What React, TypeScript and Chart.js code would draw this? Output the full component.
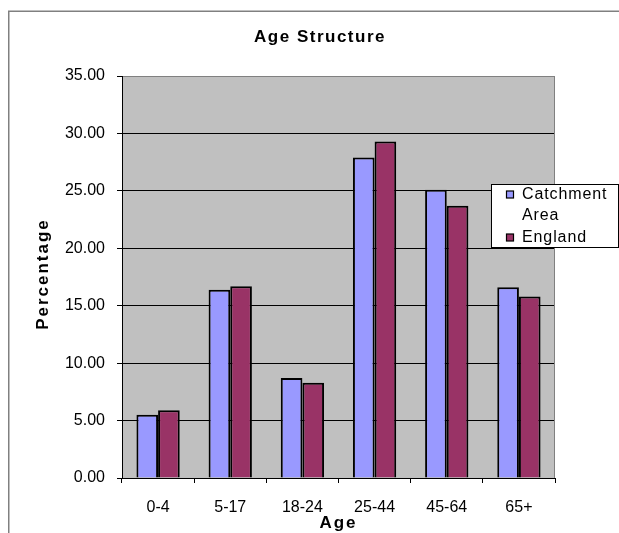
import React, { useEffect, useRef } from "react";
import { Chart, registerables } from "chart.js";

Chart.register(...registerables);

const categories = ["0-4", "5-17", "18-24", "25-44", "45-64", "65+"];
const catchmentValues = [5.5, 16.4, 8.7, 27.9, 25.1, 16.6];
const englandValues = [5.9, 16.7, 8.3, 29.3, 23.7, 15.8];
const seriesNames = ["Catchment Area", "England"];
const seriesColors = ["#9999FF", "#993366"];
const yMin = 0;
const yMax = 35;
const yStep = 5;
const chartTitle = "Age Structure";
const xTitle = "Age";
const yTitle = "Percentage";

const FONT = '"Liberation Sans", Arial, sans-serif';

function wrapWords(ctx: CanvasRenderingContext2D, text: string, maxW: number): string[] {
  const words = text.split(" ");
  const lines: string[] = [];
  let cur = "";
  for (const w of words) {
    const test = cur ? cur + " " + w : w;
    if (cur && ctx.measureText(test).width > maxW) {
      lines.push(cur);
      cur = w;
    } else {
      cur = test;
    }
  }
  if (cur) lines.push(cur);
  return lines;
}

const decor = {
  id: "decor",
  beforeDraw(chart: any) {
    const { ctx, chartArea: a } = chart;
    ctx.save();
    ctx.fillStyle = "#ffffff";
    ctx.fillRect(0, 0, chart.width, chart.height);
    ctx.fillStyle = "#C0C0C0";
    ctx.fillRect(a.left, a.top, a.right - a.left, a.bottom - a.top);
    ctx.strokeStyle = "#808080";
    ctx.lineWidth = 1.5;
    ctx.beginPath();
    ctx.moveTo(8.75, chart.height);
    ctx.lineTo(8.75, 11.25);
    ctx.lineTo(chart.width, 11.25);
    ctx.stroke();
    ctx.restore();
  },
  afterDraw(chart: any) {
    const { ctx, chartArea: a } = chart;
    ctx.save();
    // plot right border
    ctx.strokeStyle = "#808080";
    ctx.lineWidth = 1;
    ctx.beginPath();
    ctx.moveTo(a.right - 0.5, a.top);
    ctx.lineTo(a.right - 0.5, a.bottom);
    ctx.stroke();

    // titles
    ctx.fillStyle = "#000";
    ctx.textAlign = "center";
    ctx.textBaseline = "middle";
    ctx.font = `bold 17px ${FONT}`;
    (ctx as any).letterSpacing = "1.5px";
    ctx.fillText(chartTitle, 320, 37);

    (ctx as any).letterSpacing = "2px";
    ctx.fillText(xTitle, (a.left + a.right) / 2, 523);

    (ctx as any).letterSpacing = "2px";
    ctx.save();
    ctx.translate(43, 274);
    ctx.rotate(-Math.PI / 2);
    ctx.fillText(yTitle, 0, 0);
    ctx.restore();

    // legend
    const lx = 491.5, ly = 184.5, lw = 127, lh = 63;
    ctx.fillStyle = "#ffffff";
    ctx.fillRect(lx, ly, lw, lh);
    ctx.strokeStyle = "#000";
    ctx.lineWidth = 1;
    ctx.strokeRect(lx, ly, lw, lh);
    ctx.font = `16px ${FONT}`;
    (ctx as any).letterSpacing = "0.9px";
    ctx.textAlign = "left";
    ctx.textBaseline = "middle";
    let y = 194.5;
    chart.data.datasets.forEach((ds: any) => {
      ctx.fillStyle = ds.backgroundColor;
      ctx.fillRect(506.5, y - 3.5, 7, 7);
      ctx.strokeStyle = "#000";
      ctx.lineWidth = 1.2;
      ctx.strokeRect(506.5, y - 3.5, 7, 7);
      ctx.fillStyle = "#000";
      const lines = wrapWords(ctx, ds.label, 92);
      lines.forEach((ln, i) => {
        ctx.fillText(ln, 522, y + i * 21.5);
      });
      y += lines.length * 21.5;
    });
    ctx.restore();
  },
};

export default function App() {
  const ref = useRef<HTMLCanvasElement | null>(null);
  useEffect(() => {
    if (!ref.current) return;
    const chart = new Chart(ref.current, {
      type: "bar",
      data: {
        labels: categories,
        datasets: [
          {
            label: seriesNames[0],
            data: catchmentValues,
            backgroundColor: seriesColors[0],
            borderColor: "#000",
            borderWidth: 2,
            categoryPercentage: 0.6,
            barPercentage: 1.0,
          },
          {
            label: seriesNames[1],
            data: englandValues,
            backgroundColor: seriesColors[1],
            borderColor: "#000",
            borderWidth: 2,
            categoryPercentage: 0.6,
            barPercentage: 1.0,
          },
        ],
      },
      options: {
        responsive: false,
        animation: false,
        devicePixelRatio: 1,
        layout: { padding: { left: 0, right: 64, top: 76, bottom: 0 } },
        plugins: {
          legend: { display: false },
          title: { display: false },
          tooltip: { enabled: false },
        },
        scales: {
          x: {
            afterFit: (s: any) => {
              s.height = 55;
            },
            grid: {
              offset: true,
              drawOnChartArea: false,
              drawTicks: true,
              tickLength: 5,
              color: "#000",
              tickColor: "#000",
            },
            border: { display: true, color: "#000", width: 1 },
            ticks: {
              color: "#000",
              font: { family: FONT, size: 16 },
              padding: 15,
              maxRotation: 0,
            },
          },
          y: {
            min: yMin,
            max: yMax,
            afterFit: (s: any) => {
              s.width = 122;
            },
            grid: {
              color: (c: any) => (c.tick && c.tick.value === yMax ? "#808080" : "#000"),
              tickColor: "#000",
              tickLength: 5,
              drawTicks: true,
            },
            border: { display: true, color: "#000", width: 1 },
            ticks: {
              stepSize: yStep,
              color: "#000",
              font: { family: FONT, size: 16 },
              padding: 12,
              callback: (v: any) => Number(v).toFixed(2),
            },
          },
        },
      },
      plugins: [decor],
    });
    return () => chart.destroy();
  }, []);
  return (
    <div style={{ position: "absolute", left: 0, top: 0, width: 619, height: 533 }}>
      <canvas ref={ref} width={619} height={533} style={{ display: "block" }} />
    </div>
  );
}
